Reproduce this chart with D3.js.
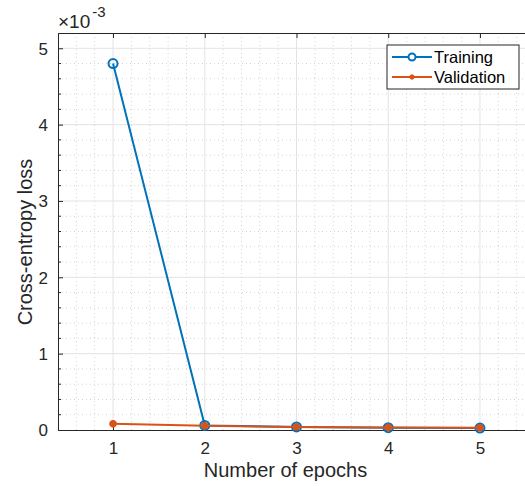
<!DOCTYPE html>
<html>
<head>
<meta charset="utf-8">
<script src="https://cdn.jsdelivr.net/npm/d3@7"></script>
<style>
  body { margin: 0; background: #fff; }
  svg, svg text { font-family: "Liberation Sans", Arial, sans-serif; }
</style>
</head>
<body>
<script>
'use strict';

// data (loss values in units of 1e-3)
const epochs = [1, 2, 3, 4, 5];
const training = [4.80, 0.060, 0.040, 0.030, 0.025];
const validation = [0.082, 0.056, 0.040, 0.034, 0.030];
const yTicks = [0, 1, 2, 3, 4, 5];
const seriesNames = ['Training', 'Validation'];

const width = 525, height = 486;
const margin = { top: 33, left: 58, bottom: 56, right: -10 };
const panelW = width - margin.left - margin.right;
const panelH = height - margin.top - margin.bottom;

const blue = '#0072BD', orange = '#D95319', ink = '#262626';

const svg = d3.select('body').append('svg')
  .attr('width', width)
  .attr('height', height);

const x = d3.scaleLinear().domain([0.4, 5.6]).range([0, panelW]);
const y = d3.scaleLinear().domain([0, 5.2]).range([panelH, 0]);

const chart = svg.append('g')
  .attr('transform', `translate(${margin.left}, ${margin.top})`);

// minor grid
const minorX = d3.range(0.6, 5.6, 0.2).filter(v => Math.abs(v - Math.round(v)) > 0.01);
const minorY = d3.range(0.2, 5.2, 0.2).filter(v => Math.abs(v - Math.round(v)) > 0.01);

chart.selectAll('.minx').data(minorX).enter().append('line')
  .attr('x1', d => x(d)).attr('x2', d => x(d))
  .attr('y1', 0).attr('y2', panelH)
  .attr('stroke', '#d4d4d4').attr('stroke-width', 1)
  .attr('stroke-dasharray', '1,3');
chart.selectAll('.miny').data(minorY).enter().append('line')
  .attr('y1', d => y(d)).attr('y2', d => y(d))
  .attr('x1', 0).attr('x2', panelW)
  .attr('stroke', '#d4d4d4').attr('stroke-width', 1)
  .attr('stroke-dasharray', '1,3');

// major grid
chart.selectAll('.majx').data(epochs).enter().append('line')
  .attr('x1', d => x(d)).attr('x2', d => x(d))
  .attr('y1', 0).attr('y2', panelH)
  .attr('stroke', '#e3e3e3').attr('stroke-width', 1);
chart.selectAll('.majy').data(yTicks.slice(1)).enter().append('line')
  .attr('y1', d => y(d)).attr('y2', d => y(d))
  .attr('x1', 0).attr('x2', panelW)
  .attr('stroke', '#e3e3e3').attr('stroke-width', 1);

// axes (ticks pointing inward)
const xAxis = d3.axisBottom(x).tickValues(epochs).tickSize(-5).tickPadding(12)
  .tickFormat(d3.format('d'));
const yAxis = d3.axisLeft(y).tickValues(yTicks).tickSize(-5).tickPadding(10)
  .tickFormat(d3.format('d'));

chart.append('g')
  .attr('class', 'x-axis')
  .attr('transform', `translate(0, ${panelH})`)
  .call(xAxis);
chart.append('g')
  .attr('class', 'x-axis-top')
  .call(d3.axisTop(x).tickValues(epochs).tickSize(-5).tickFormat(''));
chart.append('g')
  .attr('class', 'y-axis')
  .call(yAxis);

// y minor ticks
chart.selectAll('.yminor').data(minorY).enter().append('line')
  .attr('x1', 0).attr('x2', 3)
  .attr('y1', d => y(d)).attr('y2', d => y(d))
  .attr('stroke', ink).attr('stroke-width', 1);

svg.selectAll('.x-axis, .x-axis-top, .y-axis')
  .attr('font-family', '"Liberation Sans", Arial, sans-serif')
  .attr('font-size', 17);
svg.selectAll('.domain').attr('stroke', ink).attr('stroke-width', 1);
svg.selectAll('.tick line').attr('stroke', ink);
svg.selectAll('.tick text').attr('fill', ink);
svg.selectAll('.y-axis .tick text').attr('dy', '0.35em');

// lines
const line = d3.line()
  .x((d, i) => x(epochs[i]))
  .y(d => y(d));

chart.append('path')
  .datum(training)
  .attr('d', line)
  .attr('fill', 'none')
  .attr('stroke', blue)
  .attr('stroke-width', 2);

chart.selectAll('.trainpt').data(training).enter().append('circle')
  .attr('cx', (d, i) => x(epochs[i]))
  .attr('cy', d => y(d))
  .attr('r', 4.5)
  .attr('fill', 'none')
  .attr('stroke', blue)
  .attr('stroke-width', 2);

chart.append('path')
  .datum(validation)
  .attr('d', line)
  .attr('fill', 'none')
  .attr('stroke', orange)
  .attr('stroke-width', 2);

function asterisk(sel, s) {
  sel.append('path')
    .attr('d', `M${-s},0L${s},0M0,${-s}L0,${s}M${-s * 0.7},${-s * 0.7}L${s * 0.7},${s * 0.7}M${-s * 0.7},${s * 0.7}L${s * 0.7},${-s * 0.7}`)
    .attr('stroke', orange)
    .attr('stroke-width', 2.5)
    .attr('fill', 'none');
  sel.append('circle').attr('r', s * 0.7).attr('fill', orange);
}

chart.selectAll('.valpt').data(validation).enter().append('g')
  .attr('transform', (d, i) => `translate(${x(epochs[i])}, ${y(d)})`)
  .each(function () { asterisk(d3.select(this), 3.8); });

// exponent label
const expo = svg.append('text')
  .attr('x', 58)
  .attr('y', 28)
  .attr('fill', ink)
  .style('font-size', '19px');
expo.append('tspan').text('\u00d710');
expo.append('tspan').attr('dx', 2).attr('dy', -11).style('font-size', '15px').text('-3');

// axis labels
svg.append('text')
  .attr('x', margin.left + x(3) - 11)
  .attr('y', 477)
  .attr('text-anchor', 'middle')
  .attr('fill', ink)
  .style('font-size', '20px')
  .text('Number of epochs');

svg.append('text')
  .attr('transform', `translate(32, ${242}) rotate(-90)`)
  .attr('text-anchor', 'middle')
  .attr('fill', ink)
  .style('font-size', '20px')
  .text('Cross-entropy loss');

// legend
const legend = svg.append('g').attr('transform', 'translate(387, 45)');
legend.append('rect')
  .attr('width', 132).attr('height', 44)
  .attr('fill', '#fff').attr('stroke', ink).attr('stroke-width', 1);

const entries = legend.selectAll('.entry').data(seriesNames).enter().append('g')
  .attr('transform', (d, i) => `translate(0, ${12 + i * 20})`);
entries.append('line')
  .attr('x1', 5).attr('x2', 45)
  .attr('stroke', (d, i) => i === 0 ? blue : orange)
  .attr('stroke-width', 2);
entries.filter((d, i) => i === 0).append('circle')
  .attr('cx', 25).attr('r', 3.5)
  .attr('fill', '#fff').attr('stroke', blue).attr('stroke-width', 2);
entries.filter((d, i) => i === 1).append('g')
  .attr('transform', 'translate(25, 0)')
  .each(function () { asterisk(d3.select(this), 2.5); });
entries.append('text')
  .attr('x', 47)
  .attr('dy', '0.35em')
  .attr('fill', '#000')
  .style('font-size', '16.5px')
  .text(d => d);
</script>
</body>
</html>
